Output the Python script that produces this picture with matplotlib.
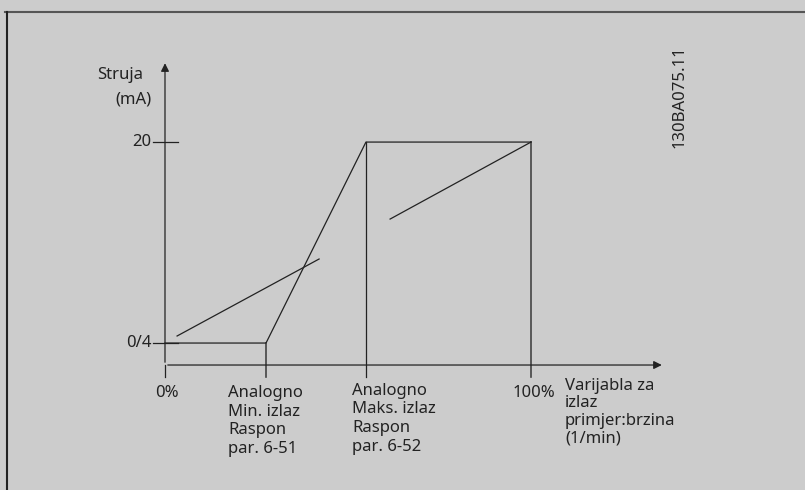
import matplotlib.pyplot as plt
from matplotlib.lines import Line2D

# Podaci (x u %, y u mA)
x_min = 27.6   # Analogno Min. izlaz
x_max = 54.9   # Analogno Maks. izlaz
y_low = 4
y_high = 20

izlaz_x = [0, x_min, x_max, 100]
izlaz_y = [y_low, y_low, y_high, y_high]

linija1_x = [3.3, 42.1]
linija1_y = [4.56, 10.69]
linija2_x = [61.5, 100]
linija2_y = [13.87, 20]

x_tick_pos = [0, x_min, x_max, 100]
x_tick_labels = ['0%', 'Analogno\nMin. izlaz\nRaspon\npar. 6-51',
                 'Analogno\nMaks. izlaz\nRaspon\npar. 6-52', '100%']
y_tick_pos = [y_high, y_low]
y_tick_labels = ['20', '0/4']

bg = '#cccccc'
ink = '#222222'
fs = 12
plt.rcParams['font.family'] = ['Noto Sans', 'DejaVu Sans']

fig = plt.figure(figsize=(8.05, 4.9), dpi=100, facecolor=bg)
ax = fig.add_axes([0, 0, 1, 1])
ax.set_facecolor(bg)
ax.set_xlim(-45.08, 174.86)
ax.set_ylim(-7.70, 31.31)
ax.axis('off')

y_axis = 2.25
lw = 0.9

# okvir
fig.add_artist(Line2D([5 / 805, 1], [1 - 12 / 490] * 2, color='#555555', lw=1.5))
fig.add_artist(Line2D([7 / 805] * 2, [0, 1 - 12 / 490], color='#222222', lw=1.5))

# osi sa strelicama
ax.annotate('', xy=(136.5, y_axis), xytext=(0, y_axis),
            arrowprops=dict(arrowstyle='-|>', color=ink, lw=lw, mutation_scale=12))
ax.annotate('', xy=(0, 26.5), xytext=(0, y_axis),
            arrowprops=dict(arrowstyle='-|>', color=ink, lw=lw, mutation_scale=12))
ax.plot([0, 0], [y_axis - 0.95, y_axis], color=ink, lw=lw)

# crtice na y osi
for yv, lab in zip(y_tick_pos, y_tick_labels):
    ax.plot([-3.3, 3.5], [yv, yv], color=ink, lw=lw)
    ax.text(-3.6, yv, lab, ha='right', va='center', fontsize=fs, color=ink)

# crtice na x osi
ax.plot([x_min, x_min], [y_axis - 0.95, y_low], color='#444444', lw=1.2)
ax.plot([x_max, x_max], [y_axis - 0.95, y_high], color=ink, lw=lw)
ax.plot([100, 100], [y_axis - 0.95, y_high], color='#444444', lw=1.2)

# izlazna krivulja
ax.plot(izlaz_x, izlaz_y, color=ink, lw=lw)
ax.plot(linija1_x, linija1_y, color=ink, lw=lw)
ax.plot(linija2_x, linija2_y, color=ink, lw=lw)

# oznake
ax.text(0.5, y_axis - 1.6, x_tick_labels[0], ha='center', va='top', fontsize=fs, color=ink)
ax.text(17.2, y_axis - 1.6, x_tick_labels[1], ha='left', va='top', fontsize=fs,
        color=ink, linespacing=1.22)
ax.text(51.1, y_axis - 1.4, x_tick_labels[2], ha='left', va='top', fontsize=fs,
        color=ink, linespacing=1.22)
ax.text(95.0, y_axis - 1.6, x_tick_labels[3], ha='left', va='top', fontsize=fs, color=ink)
ax.text(109.3, y_axis - 1.0, 'Varijabla za\nizlaz\nprimjer:brzina\n(1/min)', ha='left',
        va='top', fontsize=fs, color=ink, linespacing=1.15)

ax.text(-6.0, 25.3, 'Struja', ha='right', va='center', fontsize=fs, color=ink)
ax.text(-3.8, 23.4, '(mA)', ha='right', va='center', fontsize=fs, color=ink)

ax.text(140.7, 23.6, '130BA075.11', rotation=90, ha='center', va='center',
        fontsize=fs, color=ink)

fig.savefig('out.png', dpi=100, facecolor=bg)
